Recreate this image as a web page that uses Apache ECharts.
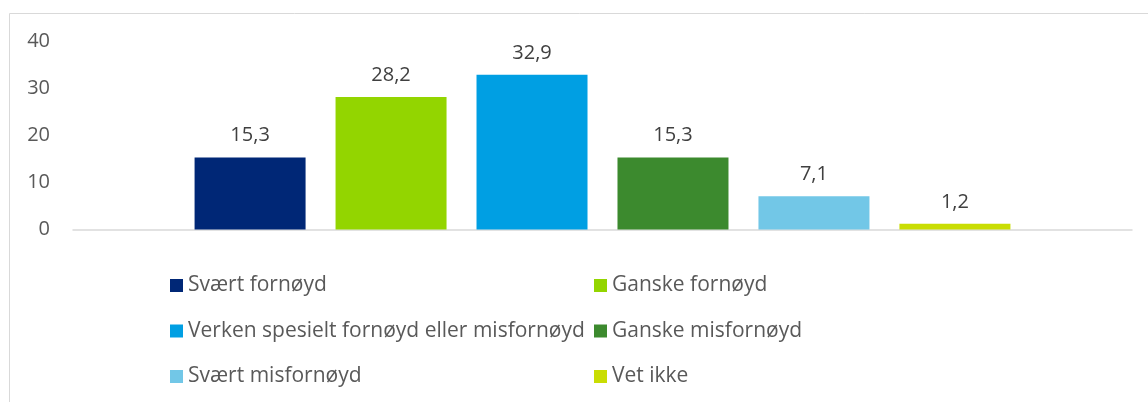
<!DOCTYPE html>
<html>
<head>
<meta charset="utf-8">
<script src="https://cdn.jsdelivr.net/npm/echarts@6/dist/echarts.min.js"></script>
<style>
  html, body { margin: 0; padding: 0; background: #fff; }
  #chart { width: 1148px; height: 402px; }
</style>
</head>
<body>
<div id="chart"></div>
<script>
// Survey answers, one series per answer (percent)
const answers = [
    'Svært fornøyd',
    'Ganske fornøyd',
    'Verken spesielt fornøyd eller misfornøyd',
    'Ganske misfornøyd',
    'Svært misfornøyd',
    'Vet ikke'
];
const shares = [15.3, 28.2, 32.9, 15.3, 7.1, 1.2];
const answerColors = ['#002776', '#93d500', '#009fe3', '#3c8a2e', '#72c7e7', '#c9dd03'];
const yTicks = [0, 10, 20, 30, 40];

// legend is laid out in two columns, like the original
const legendLeft = [answers[0], answers[2], answers[4]];
const legendRight = [answers[1], answers[3], answers[5]];

const fontName = '"Open Sans", sans-serif';

const chart = echarts.init(document.getElementById('chart'));

const series = answers.map((name, i) => ({
    name: name,
    type: 'bar',
    data: [shares[i]],
    barWidth: 111,
    barGap: '27%',
    itemStyle: { color: answerColors[i] },
    label: {
        show: true,
        position: 'top',
        distance: 12,
        color: '#404040',
        fontFamily: fontName,
        fontSize: 20,
        formatter: p => String(p.value).replace('.', ',')
    }
}));

const legendBase = {
    orient: 'vertical',
    top: 273,
    padding: 0,
    icon: 'rect',
    itemWidth: 13,
    itemHeight: 13,
    itemGap: 20.5,
    selectedMode: false,
    textStyle: { color: '#595959', fontFamily: fontName, fontSize: 21, lineHeight: 25 }
};

chart.setOption({
    animation: false,
    graphic: [{
        type: 'rect',
        shape: { x: 9.5, y: 13.5, width: 1300, height: 500 },
        style: { fill: 'none', stroke: '#d9d9d9', lineWidth: 1 },
        silent: true
    }],
    legend: [
        Object.assign({ left: 170, data: legendLeft }, legendBase),
        Object.assign({ left: 594, data: legendRight }, legendBase)
    ],
    grid: { left: 73, right: 16, top: 41.5, bottom: 172.5 },
    xAxis: {
        type: 'category',
        data: [''],
        axisLine: { lineStyle: { color: '#d9d9d9', width: 1.5 } },
        axisTick: { show: false },
        axisLabel: { show: false }
    },
    yAxis: {
        type: 'value',
        min: yTicks[0],
        max: yTicks[yTicks.length - 1],
        interval: 10,
        splitLine: { show: false },
        axisLine: { show: false },
        axisTick: { show: false },
        axisLabel: { margin: 23, color: '#595959', fontFamily: fontName, fontSize: 20 }
    },
    series: series
});
</script>
</body>
</html>
